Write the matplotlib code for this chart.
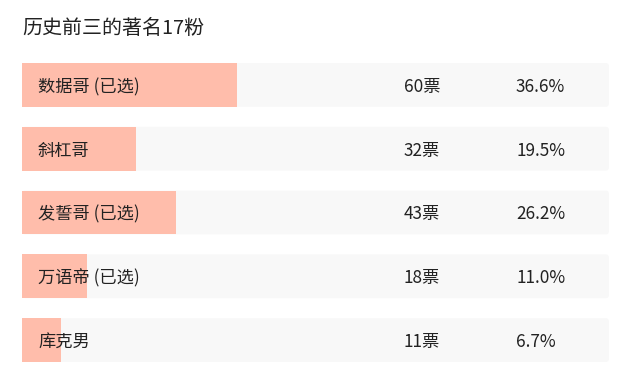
import matplotlib
matplotlib.use('Agg')
import matplotlib.pyplot as plt
from matplotlib.patches import FancyBboxPatch
from matplotlib.transforms import offset_copy

plt.rcParams['font.family'] = ['Noto Sans CJK SC', 'DejaVu Sans']

# data
title = '历史前三的著名17粉'
names = ['数据哥 (已选)', '斜杠哥', '发誓哥 (已选)', '万语帝 (已选)', '库克男']
votes = [60, 32, 43, 18, 11]
percents = [36.6, 19.5, 26.2, 11.0, 6.7]

W, H = 628, 375
fig = plt.figure(figsize=(W / 100, H / 100), dpi=100)
fig.patch.set_facecolor('white')

# axes spans the bar region in pixels
left, right, top, bottom = 22, 609, 63, 362
ax = fig.add_axes([left / W, 1 - bottom / H, (right - left) / W, (bottom - top) / H])
bar_h = 44 / 64
n = len(names)
ax.set_xlim(0, 100)
ax.set_ylim(n - 1 + bar_h / 2, -bar_h / 2)
ax.axis('off')

ypos = list(range(n))
# gray track with slightly rounded corners
bg = ax.barh(ypos, [100] * n, height=bar_h, color='#f8f8f8', edgecolor='none')
xpx = (right - left) / 100
ypx = (bottom - top) / (n - 1 + bar_h)
for p in bg:
    x0, y0, w, h = p.get_x(), p.get_y(), p.get_width(), p.get_height()
    p.remove()
    ax.add_patch(FancyBboxPatch((x0, y0), w, h,
                                boxstyle='round,pad=0,rounding_size=0.6',
                                mutation_aspect=xpx / ypx,
                                facecolor='#f8f8f8', edgecolor='none'))
ax.barh(ypos, percents, height=bar_h, color='#ffbdab', edgecolor='none')

px = 100 / (right - left)
fs = 12.4
tt = offset_copy(ax.transData, fig=fig, x=0, y=-2, units='dots')
for i in ypos:
    ax.text((38 - left) * px, i, names[i], va='center', ha='left', fontsize=fs, color='#222222', transform=tt)
    ax.text((404 - left) * px, i, f'{votes[i]}票', va='center', ha='left', fontsize=fs, color='#222222', transform=tt)
    ax.text((516 - left) * px, i, f'{percents[i]:.1f}%', va='center', ha='left', fontsize=fs, color='#222222', transform=tt)

fig.text(22 / W, 1 - 29 / H, title, ha='left', va='center', fontsize=14.4, color='#222222')

fig.savefig('out.png', dpi=100)
